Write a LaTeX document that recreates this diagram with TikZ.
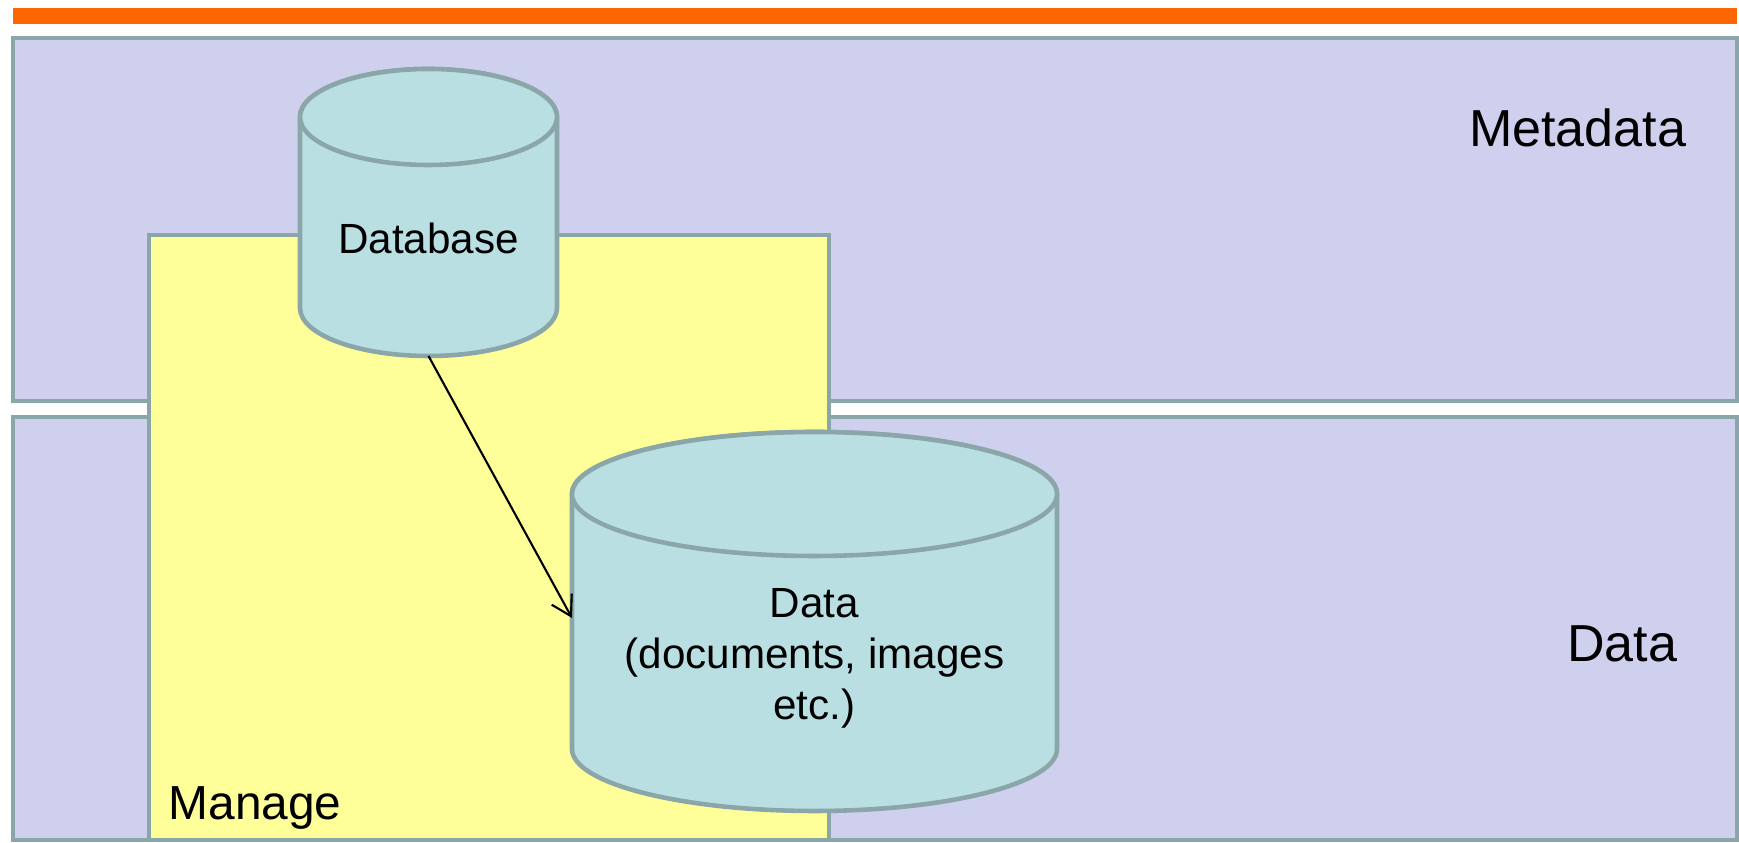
\documentclass[tikz,border=0pt]{standalone}
\usepackage{fontspec}
\setmainfont{Liberation Sans}
\usetikzlibrary{arrows.meta}

\definecolor{lanefill}{HTML}{CFCFEE}
\definecolor{edgegrey}{HTML}{8AA6A9}
\definecolor{managefill}{HTML}{FFFF99}
\definecolor{cylfill}{HTML}{BADFE3}
\definecolor{topbar}{HTML}{FF6600}

\tikzset{
  lane/.style={fill=lanefill, draw=edgegrey, line width=1.3pt},
  managebox/.style={fill=managefill, draw=edgegrey, line width=1.3pt},
  cyl/.style={fill=cylfill, draw=edgegrey, line width=1.3pt},
  bigtext/.style={inner sep=0pt, font=\fontsize{14.8}{17}\selectfont},
  cyltext/.style={inner sep=0pt, align=center, font=\fontsize{12}{14.5}\selectfont}
}

\begin{document}
\begin{tikzpicture}[x=0.01cm, y=0.01cm]
\useasboundingbox (0,0) rectangle (1739,843);
\path   (428.5,487) coordinate (dbbottom) {}
        (572,225)   coordinate (datatip) {};

\fill[topbar] (13,819) rectangle (1737,835);
\foreach \lo/\hi in {442/805, 3/426}
	\draw[lane] (13,\lo) rectangle (1737,\hi);
\draw[managebox] (149,3) rectangle (829,608);

% database
\draw[cyl] (300,726) -- (300,535) arc[start angle=180, end angle=360, x radius=128.5, y radius=48]
        -- (557,726) arc[start angle=0, end angle=180, x radius=128.5, y radius=48] -- cycle;
\draw[cyl] (428.5,726) ellipse[x radius=128.5, y radius=48];
% data store
\draw[cyl] (572,349) -- (572,94) arc[start angle=180, end angle=360, x radius=242.5, y radius=62]
        -- (1057,349) arc[start angle=0, end angle=180, x radius=242.5, y radius=62] -- cycle;
\draw[cyl] (814.5,349) ellipse[x radius=242.5, y radius=62];

\node[cyltext] (dbtext) at (428.5,605) {Database};
\node[cyltext] (datatext) at (814.5,184.5) {Data\\(documents, images\\etc.)};
\node[bigtext, anchor=base] (metalabel) at (1577.5,696) {Metadata};
\node[bigtext, anchor=base] (datalabel) at (1622,181) {Data};
\node[inner sep=0pt, anchor=base west, font=\fontsize{13.6}{16}\selectfont] (managelabel) at (168,23) {Manage};

\draw[line width=0.6pt, -{Straight Barb[length=5.5pt, width=6.5pt]}] (dbbottom) -- (datatip);
\end{tikzpicture}
\end{document}
